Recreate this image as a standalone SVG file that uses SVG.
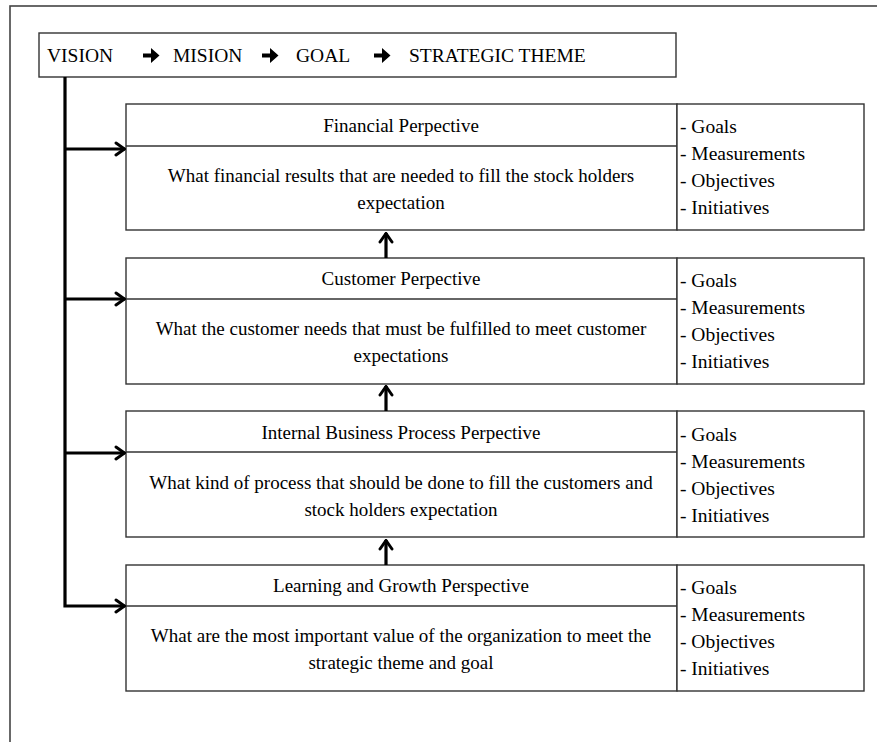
<svg xmlns="http://www.w3.org/2000/svg" width="877" height="742" viewBox="0 0 877 742">
<style>
.box{fill:#fff;stroke:#333;stroke-width:1.4}
.ln{fill:none;stroke:#333;stroke-width:1.4}
text{font-family:'Liberation Serif','DejaVu Serif',serif;fill:#000}
.t{font-size:19px}
.l{font-size:19.5px}
.h{font-size:19.5px}
.c{text-anchor:middle}
.con{fill:none;stroke:#000;stroke-width:3.2}
</style>
<defs>
<marker id="ah" viewBox="0 0 12 16" refX="11" refY="8" markerWidth="12" markerHeight="16" markerUnits="userSpaceOnUse" orient="auto">
<path d="M2,2 L10.5,8 L2,14" fill="none" stroke="#000" stroke-width="3" stroke-linecap="round"/>
</marker>
</defs>
<rect x="0" y="0" width="877" height="742" fill="#fff"/>
<rect x="10" y="6" width="900" height="800" fill="none" stroke="#444" stroke-width="1.6"/>

<g id="header">
<rect class="box" x="39" y="33" width="637" height="44"/>
<text class="h" x="47" y="62">VISION</text>
<text class="h" x="173" y="62">MISION</text>
<text class="h" x="296" y="62">GOAL</text>
<text class="h" x="409" y="62">STRATEGIC THEME</text>
<g fill="#000">
<path d="M143,53.5 h8 v-5.5 l8.5,7.5 l-8.5,7.5 v-5.5 h-8 z"/>
<path d="M262,53.5 h8 v-5.5 l8.5,7.5 l-8.5,7.5 v-5.5 h-8 z"/>
<path d="M374,53.5 h8 v-5.5 l8.5,7.5 l-8.5,7.5 v-5.5 h-8 z"/>
</g>
</g>

<g id="financial">
<rect class="box" x="126" y="104" width="551" height="126"/>
<line class="ln" x1="126" y1="146" x2="677" y2="146"/>
<rect class="box" x="677" y="104" width="187" height="126"/>
<text class="t c" x="401" y="132">Financial Perpective</text>
<text class="t c" x="401" y="182">What financial results that are needed to fill the stock holders</text>
<text class="t c" x="401" y="209">expectation</text>
<text class="l" x="680" y="133">- Goals</text>
<text class="l" x="680" y="160">- Measurements</text>
<text class="l" x="680" y="187">- Objectives</text>
<text class="l" x="680" y="214">- Initiatives</text>
</g>

<g id="customer">
<rect class="box" x="126" y="258" width="551" height="126"/>
<line class="ln" x1="126" y1="299" x2="677" y2="299"/>
<rect class="box" x="677" y="258" width="187" height="126"/>
<text class="t c" x="401" y="285">Customer Perpective</text>
<text class="t c" x="401" y="335">What the customer needs that must be fulfilled to meet customer</text>
<text class="t c" x="401" y="362">expectations</text>
<text class="l" x="680" y="287">- Goals</text>
<text class="l" x="680" y="314">- Measurements</text>
<text class="l" x="680" y="341">- Objectives</text>
<text class="l" x="680" y="368">- Initiatives</text>
</g>

<g id="internal">
<rect class="box" x="126" y="411" width="551" height="126"/>
<line class="ln" x1="126" y1="452" x2="677" y2="452"/>
<rect class="box" x="677" y="411" width="187" height="126"/>
<text class="t c" x="401" y="439">Internal Business Process Perpective</text>
<text class="t c" x="401" y="489">What kind of process that should be done to fill the customers and</text>
<text class="t c" x="401" y="516">stock holders expectation</text>
<text class="l" x="680" y="441">- Goals</text>
<text class="l" x="680" y="468">- Measurements</text>
<text class="l" x="680" y="495">- Objectives</text>
<text class="l" x="680" y="522">- Initiatives</text>
</g>

<g id="learning">
<rect class="box" x="126" y="565" width="551" height="126"/>
<line class="ln" x1="126" y1="606" x2="677" y2="606"/>
<rect class="box" x="677" y="565" width="187" height="126"/>
<text class="t c" x="401" y="592">Learning and Growth Perspective</text>
<text class="t c" x="401" y="642">What are the most important value of the organization to meet the</text>
<text class="t c" x="401" y="669">strategic theme and goal</text>
<text class="l" x="680" y="594">- Goals</text>
<text class="l" x="680" y="621">- Measurements</text>
<text class="l" x="680" y="648">- Objectives</text>
<text class="l" x="680" y="675">- Initiatives</text>
</g>

<g id="connectors">
<polyline class="con" points="65,77 65,606 125,606" marker-end="url(#ah)"/>
<line class="con" x1="65" y1="149" x2="125" y2="149" marker-end="url(#ah)"/>
<line class="con" x1="65" y1="299" x2="125" y2="299" marker-end="url(#ah)"/>
<line class="con" x1="65" y1="453" x2="125" y2="453" marker-end="url(#ah)"/>
<line class="con" x1="386" y1="258" x2="386" y2="233" marker-end="url(#ah)"/>
<line class="con" x1="386" y1="411" x2="386" y2="386" marker-end="url(#ah)"/>
<line class="con" x1="386" y1="565" x2="386" y2="540" marker-end="url(#ah)"/>
</g>
</svg>
